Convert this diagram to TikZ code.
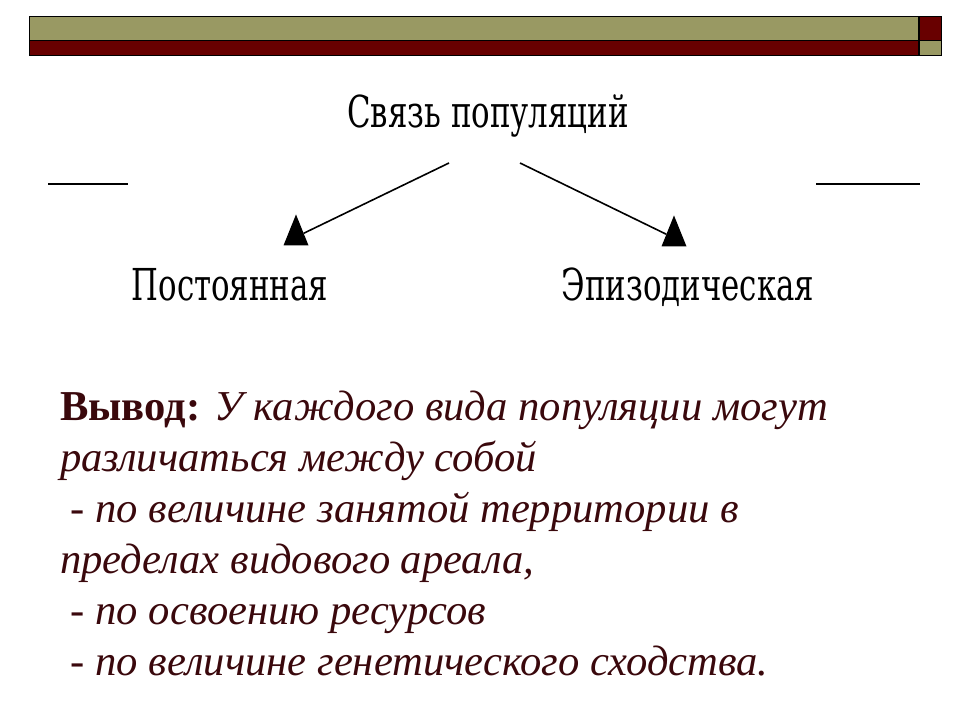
\documentclass[tikz,border=0pt]{standalone}
\usepackage{fontspec}
\setmainfont{Liberation Serif}
\newfontfamily\schemafont[FakeStretch=0.7]{DejaVu Serif}
\usetikzlibrary{positioning, shapes.geometric}

\begin{document}
\begin{tikzpicture}[x=1pt, y=-1pt,
	voce/.style={font=\schemafont\fontsize{44}{44}\selectfont, inner sep=0pt},
	punta/.style={isosceles triangle, isosceles triangle apex angle=44,
		shape border rotate=90, isosceles triangle stretches,
		minimum width=25pt, minimum height=31pt, inner sep=0pt, fill=black},
	freccia/.style={line width=1.6pt},
	testo/.style={font=\fontsize{42.6}{51}\selectfont, text=testoscuro, inner sep=0pt, align=left}]
	
	% Definizione dei colori
	\definecolor{oliva}{RGB}{153,153,99}
	\definecolor{bordeaux}{RGB}{104,0,0}
	\definecolor{testoscuro}{RGB}{58,8,12}
	
	\useasboundingbox (0,0) rectangle (960,720);
	
	% Barre in alto
	\filldraw[fill=oliva, draw=black] (29,16) rectangle (918,40);
	\filldraw[fill=bordeaux, draw=black] (29,40) rectangle (918,55);
	\filldraw[fill=bordeaux, draw=black] (919,16) rectangle (941,40);
	\filldraw[fill=oliva, draw=black] (919,40) rectangle (941,55);
	
	% Trattini laterali
	\draw[line width=1.5pt] (48,184) -- (128,184);
	\draw[line width=1.5pt] (816,184) -- (920,184);
	
	% Schema
	\node[voce, anchor=base] (legame) at (488,127) {Связь популяций};
	\node[voce, anchor=base] (costante) at (230,300) {Постоянная};
	\node[voce, anchor=base] (episodica) at (688,300) {Эпизодическая};
	
	\node[punta] (punta1) at (296,237) {};
	\node[punta] (punta2) at (674,238) {};
	
	\coordinate (inizio1) at (449,163);
	\coordinate (inizio2) at (520,163);
	\draw[freccia] (inizio1) -- (punta1);
	\draw[freccia] (inizio2) -- (punta2);
	
	% Conclusione
	\node[testo, anchor=base west] (conclusione) at (60,675) {\textbf{Вывод:} \textit{У каждого вида популяции могут}\\
		\textit{различаться между собой}\\
		\ \textit{- по величине занятой территории в}\\
		\textit{пределах видового ареала,}\\
		\ \textit{- по освоению ресурсов}\\
		\ \textit{- по величине генетического сходства.}};
	
\end{tikzpicture}
\end{document}
